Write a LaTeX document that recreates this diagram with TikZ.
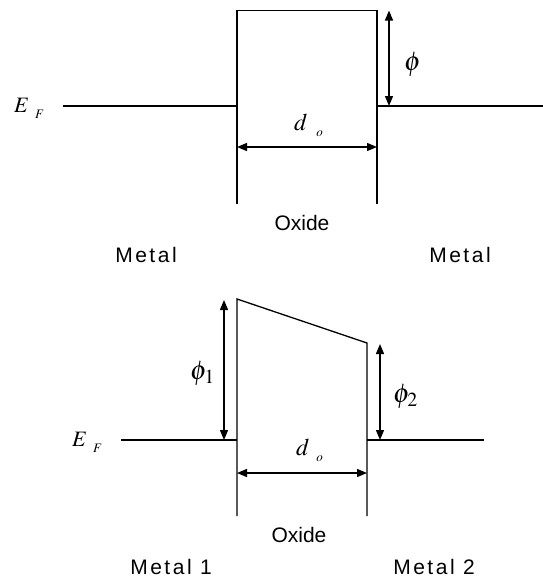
\documentclass[tikz,border=0pt]{standalone}
\usepackage{mathptmx}
\usepackage{fontspec}
\setmainfont{Liberation Sans}
\newfontfamily\metalfont[LetterSpace=12]{Liberation Sans}
\usetikzlibrary{arrows.meta}
\definecolor{bandInk}{HTML}{000000}
\newcommand{\lowsub}[2][8pt]{\hspace{#1}\raisebox{-6pt}{\fontsize{13}{13}\selectfont$#2$}}

\begin{document}
\begin{tikzpicture}[x=1pt, y=-1pt, line join=miter,
  band/.style={bandInk, line width=1.3pt},
  gap/.style={bandInk, line width=1.3pt,
    {Triangle[length=10pt,width=8pt]}-{Triangle[length=10pt,width=8pt]}},
  sym/.style={inner sep=0pt, anchor=base west, font=\fontsize{22}{22}\selectfont},
  bigsym/.style={sym, font=\fontsize{27}{27}\selectfont},
  word/.style={inner sep=0pt, anchor=base, font=\fontsize{21}{21}\selectfont}]
  \useasboundingbox (0,0) rectangle (543,579);
  % Equal barrier
  \coordinate (topL) at (237,10.5);
  \coordinate (topR) at (377,10.5);
  \coordinate (efL) at (237,106);
  \coordinate (efR) at (377,106);
  \coordinate (efStart) at (63,106);
  \coordinate (efEnd) at (543,106);
  \draw[band] (237,204) -- (topL) -- (topR) -- (377,204);
  \draw[band] (efStart) -- (efL);
  \draw[band] (efR) -- (efEnd);
  % Barrier height and width
  \draw[gap] (389,10.5) -- (389,106);
  \draw[gap] (237,147) -- (377,147);
  \node[sym] (efTop) at (14,112) {$E\lowsub[6pt]{F}$};
  \node[bigsym] (phiTop) at (404,70) {$\phi$};
  \node[sym, font=\fontsize{24}{24}\selectfont] (dTop) at (294,130) {$d\lowsub[9pt]{o}$};
  \node[word] (oxideTop) at (302,230) {Oxide};
  \node[word] (metalL) at (146,262) {\metalfont Metal};
  \node[word] (metalR) at (460,262) {\metalfont Metal};
  % Unequal barrier
  \coordinate (slopeL) at (237,299);
  \coordinate (slopeR) at (367,343);
  \coordinate (efL2) at (237,440);
  \coordinate (efR2) at (367,440);
  \coordinate (efStart2) at (121,440);
  \coordinate (efEnd2) at (484,440);
  \draw[band] (237,516) -- (slopeL) -- (slopeR) -- (367,516);
  \draw[band] (efStart2) -- (efL2);
  \draw[band] (efR2) -- (efEnd2);
  % Barrier heights and width
  \draw[gap] (224,300) -- (224,440);
  \draw[gap] (380,344) -- (380,440);
  \draw[gap] (237,473) -- (367,473);
  \node[sym] (efBot) at (72,446) {$E\lowsub[6pt]{F}$};
  \node[bigsym] (phiOne) at (190,379) {$\phi_1$};
  \node[bigsym] (phiTwo) at (393,402) {$\phi_2$};
  \node[sym, font=\fontsize{24}{24}\selectfont] (dBot) at (296,455) {$d\lowsub[7pt]{o}$};
  \node[word] (oxideBot) at (299,542) {Oxide};
  \node[word] (metalOne) at (171,574) {\metalfont Metal 1};
  \node[word] (metalTwo) at (434,574) {\metalfont Metal 2};
\end{tikzpicture}
\end{document}
